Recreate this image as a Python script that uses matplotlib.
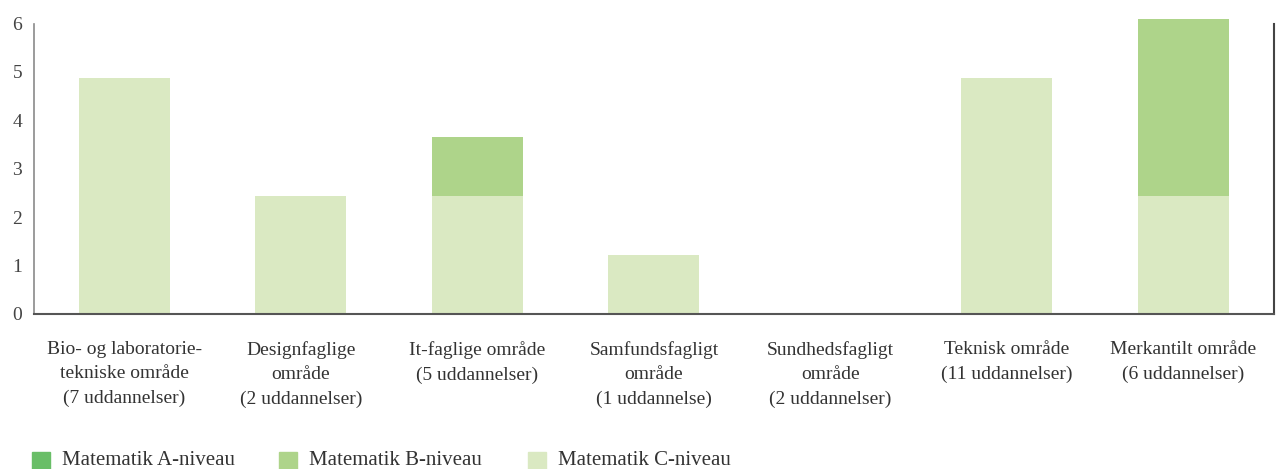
import matplotlib
matplotlib.use("Agg")
import matplotlib.pyplot as plt
from matplotlib.patches import Rectangle
import numpy as np

categories = [
    "Bio- og laboratorie-\ntekniske område\n(7 uddannelser)",
    "Designfaglige\nområde\n(2 uddannelser)",
    "It-faglige område\n(5 uddannelser)",
    "Samfundsfagligt\nområde\n(1 uddannelse)",
    "Sundhedsfagligt\nområde\n(2 uddannelser)",
    "Teknisk område\n(11 uddannelser)",
    "Merkantilt område\n(6 uddannelser)",
]
series_names = ["Matematik A-niveau", "Matematik B-niveau", "Matematik C-niveau"]
level_a = [0, 0, 0, 0, 0, 0, 0]
level_b = [0, 0, 1.22, 0, 0, 0, 3.66]
level_c = [4.88, 2.44, 2.44, 1.22, 0, 4.88, 2.44]
yticks = [0, 1, 2, 3, 4, 5, 6]

colors = ["#69be67", "#aed48a", "#dae9c2"]
font = ["Liberation Serif", "DejaVu Serif"]
plt.rcParams["font.family"] = font
txt = "#333333"

W, H = 1276, 469
fig = plt.figure(figsize=(W / 100, H / 100), dpi=100)
ax = fig.add_axes([34 / W, 1 - 314 / H, 1240 / W, (314 - 23.5) / H])

x = np.arange(len(categories))
bw = 0.516
c = np.array(level_c)
b = np.array(level_b)
a = np.array(level_a)
ax.bar(x, c, bw, color=colors[2], clip_on=False, zorder=2)
ax.bar(x, b, bw, bottom=c, color=colors[1], clip_on=False, zorder=2)
ax.bar(x, a, bw, bottom=c + b, color=colors[0], clip_on=False, zorder=2)

ax.set_xlim(-0.512, 6.513)
ax.set_ylim(0, 6)
ax.set_yticks(yticks)
ax.set_yticklabels([str(t) for t in yticks])
ax.set_xticks(x)
ax.set_xticklabels(categories, linespacing=1.55)

ax.tick_params(axis="x", length=0, pad=19.5, labelsize=14, labelcolor=txt)
ax.tick_params(axis="y", length=0, pad=8.5, labelsize=14, labelcolor="#444444")

ax.spines["top"].set_visible(False)
ax.spines["left"].set_color("#8a8a8a")
ax.spines["left"].set_linewidth(1.2)
ax.spines["bottom"].set_color("#555555")
ax.spines["bottom"].set_linewidth(1.5)
ax.spines["right"].set_color("#444444")
ax.spines["right"].set_linewidth(1.5)

# legend
leg_x = [32, 279, 528]
for xi, name, col in zip(leg_x, series_names, colors):
    fig.patches.append(Rectangle((xi / W, 1 - 470 / H), 18 / W, 18 / H,
                                 transform=fig.transFigure, color=col))
    fig.text((xi + 30) / W, 1 - 464.5 / H, name, fontsize=15, color=txt,
             ha="left", va="baseline")

fig.savefig("out.png", dpi=100)
